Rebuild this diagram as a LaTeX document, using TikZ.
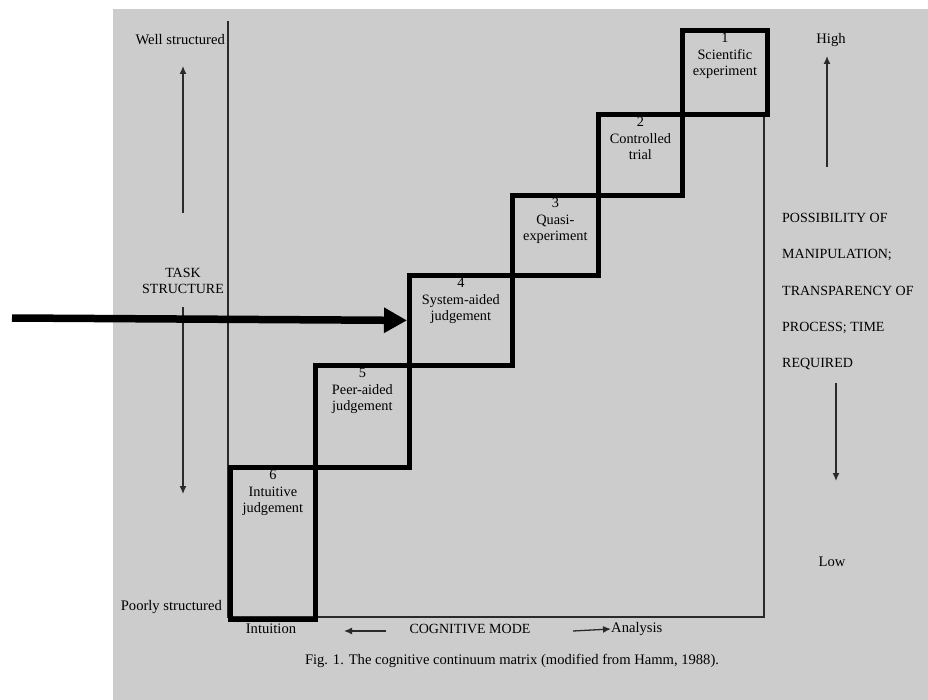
\documentclass[tikz,border=0pt]{standalone}
\usepackage{fontspec}
\setmainfont{Liberation Serif}
\usetikzlibrary{arrows.meta,positioning}
\definecolor{panel}{HTML}{CCCCCC}
\definecolor{frameln}{HTML}{2A2A2A}

\tikzset{
  stepbox/.style={draw=black, line width=4.8pt, inner sep=0pt, anchor=north west},
  boxtext/.style={align=center, inner sep=0pt, font=\fontsize{14.3}{16.5}\selectfont},
  lbl/.style={inner sep=0pt, font=\fontsize{14.6}{16.5}\selectfont},
  caps/.style={inner sep=0pt, font=\fontsize{14}{16.5}\selectfont},
  thinarrow/.style={draw=frameln, line width=1.3pt, -{Latex[length=8pt,width=7pt]}},
}

\begin{document}
\begin{tikzpicture}[x=1pt, y=-1pt]
    \useasboundingbox (0,0) rectangle (928,700);
    \fill[panel] (113,9) rectangle (928,700);

    % frame of the matrix
    \draw[frameln, line width=1.2pt] (228,21) -- (228,617) -- (764,617) -- (764,112);

    % the six steps
    \foreach \n/\l/\t/\w/\h in {1/680/28/85/84, 2/596/112/84/81, 3/510/193/86/80,
                                4/407/273/103/90, 5/313/363/94/102, 6/228/465/85/152} {
      \node[stepbox, minimum width=\w pt, minimum height=\h pt] (s\n) at (\l,\t) {};
    }
    \node[boxtext, below=5pt of s1.north] {1\\Scientific\\experiment};
    \node[boxtext, below=5pt of s2.north] {2\\Controlled\\trial};
    \node[boxtext, below=5pt of s3.north] {3\\Quasi-\\experiment};
    \node[boxtext, below=5pt of s4.north] {4\\System-aided\\judgement};
    \node[boxtext, below=5pt of s5.north] {5\\Peer-aided\\judgement};
    \node[boxtext, below=5pt of s6.north] {6\\Intuitive\\judgement};

    % task structure axis
    \node[lbl, anchor=east] (well) at (225,40) {Well structured};
    \node[lbl, anchor=east] (poor) at (222,607) {Poorly structured};
    \node[caps, align=center] (task) at (183,281) {TASK\\STRUCTURE};
    \coordinate (taskup) at (183,213);
    \coordinate (tasktop) at (183,66);
    \coordinate (taskdn) at (183,307);
    \coordinate (taskbot) at (183,494);
    \draw[thinarrow] (taskup) -- (tasktop);
    \draw[thinarrow] (taskdn) -- (taskbot);

    % right hand axis
    \node[lbl] (high) at (831,40) {High};
    \node[lbl] (low) at (832,562) {Low};
    \foreach \y/\s in {218/POSSIBILITY OF, 255/MANIPULATION;, 291/TRANSPARENCY OF,
                       328/PROCESS; TIME, 364/REQUIRED} {
      \node[caps, anchor=west] at (782,\y) {\s};
    }
    \coordinate (possup) at (827,167);
    \coordinate (posstop) at (827,56);
    \coordinate (possdn) at (836,383);
    \coordinate (possbot) at (836,481);
    \draw[thinarrow] (possup) -- (posstop);
    \draw[thinarrow] (possdn) -- (possbot);

    % cognitive mode axis
    \node[lbl] (intu) at (271,629) {Intuition};
    \node[caps] (mode) at (470,629) {COGNITIVE MODE};
    \node[lbl, anchor=west] (ana) at (611,629) {Analysis};
    \coordinate (modeL) at (386,631);
    \coordinate (modeLend) at (344,631);
    \coordinate (modeR) at (573,631);
    \draw[thinarrow] (modeL) -- (modeLend);
    \draw[thinarrow] (modeR) -- (ana.west);

    \node[lbl] (cap) at (512,661) {Fig. 1. The cognitive continuum matrix (modified from Hamm, 1988).};

    % pointer to step 4
    \coordinate (src) at (12,318);
    \draw[line width=7.5pt, -{Triangle[length=23pt,width=24pt]}] (src) -- (s4.west);
  \end{tikzpicture}
\end{document}
